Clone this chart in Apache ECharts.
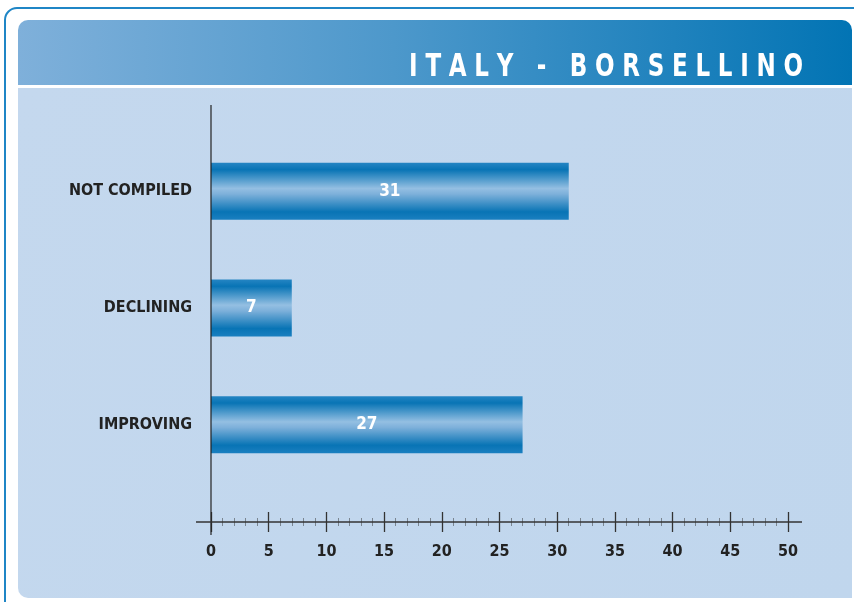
<!DOCTYPE html>
<html>
<head>
<meta charset="utf-8">
<script src="https://cdn.jsdelivr.net/npm/echarts@6/dist/echarts.min.js"></script>
<style>
  html, body { margin: 0; padding: 0; background: #ffffff; }
  #chart { width: 854px; height: 602px; }
</style>
</head>
<body>
<div id="chart"></div>
<script>
// Survey outcome counts
const categories = ['NOT COMPILED', 'DECLINING', 'IMPROVING'];
const counts = [31, 7, 27];
const titleText = 'ITALY - BORSELLINO';
const axisMin = 0;
const axisMax = 50;
const axisStep = 5;

const CONDENSED = '"Liberation Sans Narrow", "DejaVu Sans Condensed", "Arial Narrow", sans-serif';

// Spread the heading letters out (narrowed glyphs), right-aligned
function spacedTitle(text, rightEdge, baselineY, size, spacing, squeeze) {
  const ctx = document.createElement('canvas').getContext('2d');
  const font = 'bold ' + size + 'px ' + CONDENSED;
  ctx.font = font;
  const widths = [...text].map(ch => ctx.measureText(ch).width * squeeze);
  const total = widths.reduce((a, b) => a + b, 0) + spacing * (text.length - 1);
  let x = rightEdge - total;
  const out = [];
  [...text].forEach((ch, i) => {
    out.push({
      type: 'text', z: 10, x: x, y: baselineY, scaleX: squeeze,
      style: { text: ch, fill: '#ffffff', font: font, textVerticalAlign: 'bottom', textAlign: 'left' }
    });
    x += widths[i] + spacing;
  });
  return out;
}

const chart = echarts.init(document.getElementById('chart'), null, { renderer: 'canvas' });

const barGradient = new echarts.graphic.LinearGradient(0, 0, 0, 1, [
  { offset: 0, color: '#2585c3' },
  { offset: 0.12, color: '#0874b5' },
  { offset: 0.45, color: '#94bfe2' },
  { offset: 0.55, color: '#7db0da' },
  { offset: 0.86, color: '#0874b5' },
  { offset: 1, color: '#1a7fc0' }
]);

const option = {
  animation: false,
  backgroundColor: '#ffffff',
  graphic: [
    // outer frame
    { type: 'rect', z: -10, shape: { x: 5, y: 8, width: 870, height: 620, r: 12 },
      style: { fill: '#ffffff', stroke: '#1f86c6', lineWidth: 2 } },
    // header band
    { type: 'rect', z: -9, shape: { x: 18, y: 20, width: 834, height: 65, r: [10, 10, 0, 0] },
      style: { fill: new echarts.graphic.LinearGradient(0, 0, 1, 0, [
        { offset: 0, color: '#7fb0da' },
        { offset: 0.45, color: '#4d98cb' },
        { offset: 1, color: '#0274b4' }
      ]) } },
    // plot body
    { type: 'rect', z: -9, shape: { x: 18, y: 88, width: 834, height: 510, r: [0, 0, 0, 10] },
      style: { fill: new echarts.graphic.LinearGradient(0, 0, 1, 1, [
        { offset: 0, color: '#c4d8ee' },
        { offset: 1, color: '#c0d6ed' }
      ]) } },
    // axis lines
    { type: 'line', z: 5, shape: { x1: 211, y1: 105, x2: 211, y2: 535 },
      style: { stroke: '#222222', lineWidth: 1.2 } },
    { type: 'line', z: 5, shape: { x1: 196, y1: 522, x2: 802, y2: 522 },
      style: { stroke: '#333333', lineWidth: 1.5 } }
  ].concat(spacedTitle(titleText, 803, 84, 32, 7.7, 0.8)),
  grid: { left: 211, right: 66, top: 133, height: 350, containLabel: false },
  xAxis: [
    {
      type: 'value', min: axisMin, max: axisMax, interval: axisStep,
      position: 'bottom', offset: 29,
      axisLine: { show: false },
      axisTick: { show: true, length: 20, lineStyle: { color: '#333333', width: 1.3 } },
      minorTick: { show: false },
      axisLabel: { show: false },
      splitLine: { show: false }
    },
    {
      type: 'value', min: axisMin, max: axisMax, interval: axisStep,
      position: 'bottom', offset: 35,
      axisLine: { show: false },
      axisTick: { show: false },
      minorTick: { show: true, splitNumber: 5, length: 8, lineStyle: { color: '#7a8590', width: 1 } },
      axisLabel: { show: true, margin: 26, color: '#222222', fontSize: 16, fontWeight: 'bold', fontFamily: CONDENSED },
      splitLine: { show: false }
    }
  ],
  yAxis: {
    type: 'category', data: categories, inverse: true,
    axisLine: { show: false },
    axisTick: { show: false },
    axisLabel: { margin: 19, color: '#222222', fontSize: 16, fontWeight: 'bold', fontFamily: CONDENSED }
  },
  series: [{
    type: 'bar', xAxisIndex: 0, data: counts, barWidth: 57,
    itemStyle: { color: barGradient },
    label: {
      show: true, position: 'inside', color: '#ffffff',
      fontSize: 17, fontWeight: 'bold', fontFamily: CONDENSED
    }
  }]
};

chart.setOption(option);
</script>
</body>
</html>
